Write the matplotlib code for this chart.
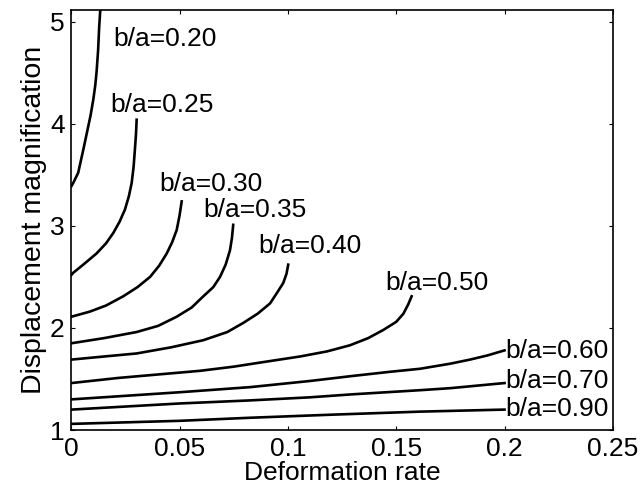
import numpy as np
import matplotlib
matplotlib.use("Agg")
import matplotlib.pyplot as plt

plt.rcParams['font.family'] = ['Liberation Sans', 'DejaVu Sans']

# curves (deformation rate, displacement magnification)
ratios = ["0.20", "0.25", "0.30", "0.35", "0.40", "0.50", "0.60", "0.70", "0.90"]

x_020 = [0, 0.0008, 0.0031, 0.0055, 0.0070, 0.0088, 0.0101, 0.0110, 0.0116, 0.0123, 0.0128, 0.0137]
y_020 = [3.39, 3.42, 3.52, 3.75, 3.90, 4.08, 4.24, 4.38, 4.51, 4.72, 4.95, 5.25]
x_025 = [0, 0.0008, 0.0060, 0.0116, 0.0160, 0.0193, 0.0222, 0.0247, 0.0265, 0.0278, 0.0287, 0.0293, 0.0298, 0.0301]
y_025 = [2.52, 2.54, 2.63, 2.73, 2.83, 2.93, 3.04, 3.16, 3.29, 3.42, 3.58, 3.75, 3.90, 4.04]
x_030 = [0, 0.0085, 0.0160, 0.0239, 0.0305, 0.0363, 0.0405, 0.0440, 0.0465, 0.0486, 0.0499, 0.0509]
y_030 = [2.11, 2.16, 2.22, 2.31, 2.40, 2.50, 2.61, 2.73, 2.84, 2.96, 3.10, 3.24]
x_035 = [0, 0.0150, 0.0301, 0.0400, 0.0486, 0.0555, 0.0609, 0.0655, 0.0686, 0.0712, 0.0732, 0.0741, 0.0747]
y_035 = [1.85, 1.90, 1.96, 2.02, 2.11, 2.20, 2.31, 2.40, 2.50, 2.62, 2.76, 2.88, 3.01]
x_040 = [0, 0.0150, 0.0301, 0.0460, 0.0609, 0.0720, 0.0794, 0.0860, 0.0917, 0.0948, 0.0978, 0.0993, 0.1001]
y_040 = [1.69, 1.72, 1.75, 1.81, 1.88, 1.96, 2.05, 2.14, 2.24, 2.34, 2.44, 2.53, 2.62]
x_050 = [0, 0.0216, 0.0432, 0.0594, 0.0747, 0.0900, 0.1055, 0.1180, 0.1286, 0.1370, 0.1440, 0.1500, 0.1533, 0.1555, 0.1571]
y_050 = [1.46, 1.51, 1.55, 1.58, 1.62, 1.67, 1.72, 1.77, 1.83, 1.90, 1.98, 2.06, 2.14, 2.23, 2.31]
x_060 = [0, 0.05, 0.0825, 0.1100, 0.1300, 0.1470, 0.1610, 0.1750, 0.1841, 0.1920, 0.2000]
y_060 = [1.30, 1.37, 1.42, 1.48, 1.53, 1.57, 1.60, 1.65, 1.69, 1.73, 1.78]
x_070 = [0, 0.05, 0.0825, 0.1100, 0.1300, 0.1610, 0.1750, 0.2000]
y_070 = [1.20, 1.26, 1.29, 1.32, 1.35, 1.39, 1.41, 1.46]
x_090 = [0, 0.05, 0.0825, 0.1200, 0.1610, 0.2000]
y_090 = [1.06, 1.09, 1.12, 1.15, 1.18, 1.20]

curves = [(x_020, y_020), (x_025, y_025), (x_030, y_030), (x_035, y_035),
          (x_040, y_040), (x_050, y_050), (x_060, y_060), (x_070, y_070),
          (x_090, y_090)]

# label anchor points (left edge, vertical centre)
label_x = [0.0193, 0.0178, 0.0406, 0.0609, 0.0861, 0.1448, 0.2002, 0.2002, 0.2002]
label_y = [4.83, 4.18, 3.41, 3.16, 2.80, 2.44, 1.77, 1.48, 1.21]

xticks = [0, 0.05, 0.1, 0.15, 0.2, 0.25]
xticklabels = ["0", "0.05", "0.1", "0.15", "0.2", "0.25"]
yticks = [1, 2, 3, 4, 5]

fig = plt.figure(figsize=(6.41, 4.97), dpi=100)
ax = fig.add_axes([0.1115, 0.1348, 0.8445, 0.8451])

for (xs, ys), r, lx, ly in zip(curves, ratios, label_x, label_y):
    ax.plot(xs, ys, color='black', linewidth=1.9, solid_joinstyle='round')
    ax.text(lx, ly, "b/a=" + r, fontsize=19, ha='left', va='center')

ax.set_xlim(0, 0.25)
ax.set_ylim(1, 5.115)
ax.set_xticks(xticks)
ax.set_xticklabels(xticklabels)
ax.set_yticks(yticks)
ax.tick_params(direction='in', length=3, width=0.8, labelsize=19,
               top=True, right=True, pad=5)
for s in ax.spines.values():
    s.set_linewidth(1.2)

ax.set_xlabel("Deformation rate", fontsize=19, labelpad=0)
ax.set_ylabel("Displacement magnification", fontsize=20.5, labelpad=2)

fig.savefig("out.png", dpi=100)
